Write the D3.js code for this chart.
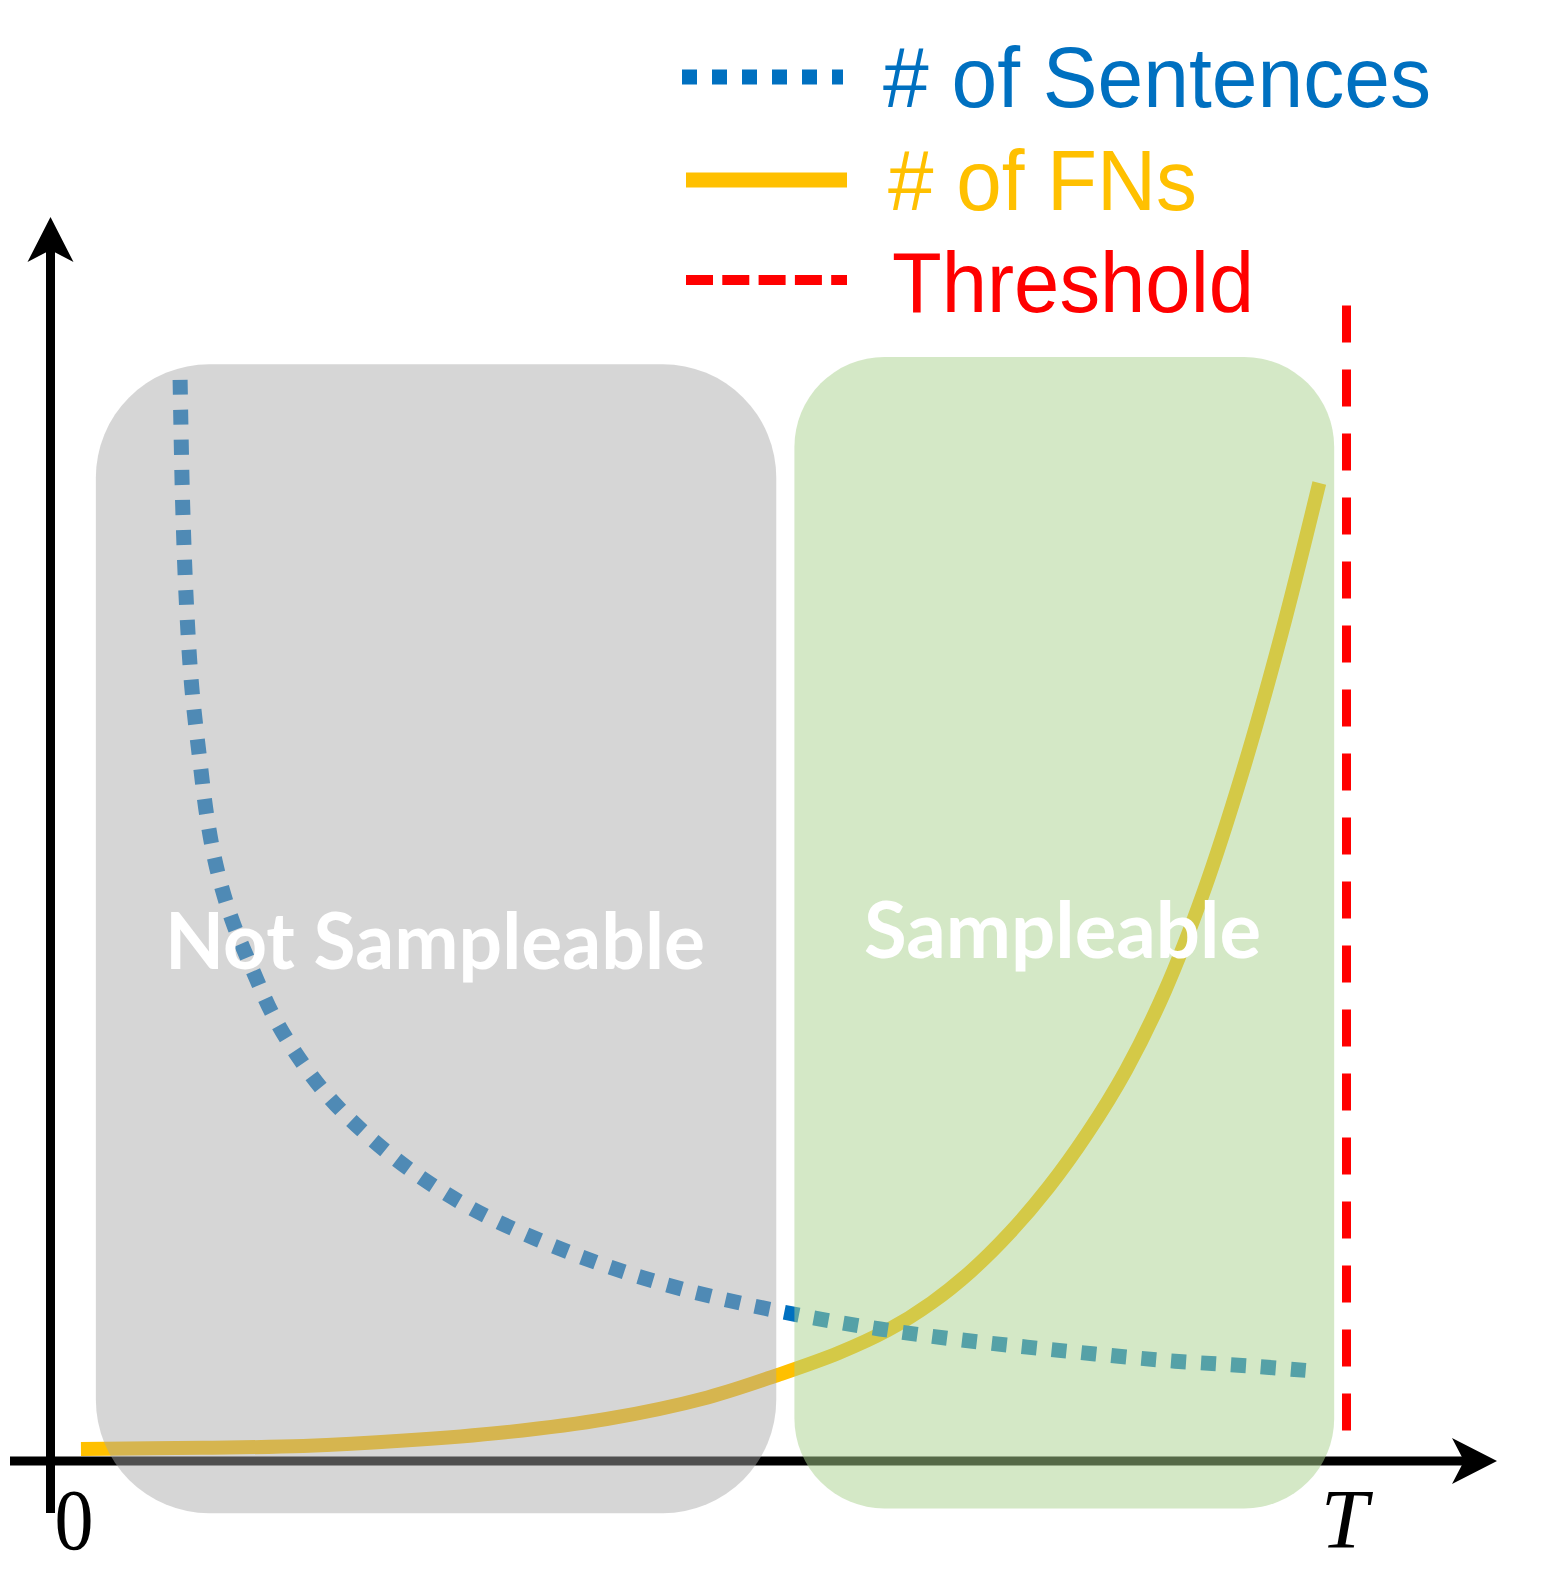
<!DOCTYPE html>
<html>
<head>
<meta charset="utf-8">
<script src="https://cdn.jsdelivr.net/npm/d3@7"></script>
<style>
  html, body { margin: 0; padding: 0; background: #fff; }
  svg { display: block; }
</style>
</head>
<body>
<div id="chart"></div>
<script>
// ---------------- DATA ----------------
// x runs from 0 (origin) to 100 (= T, the threshold); y is an arbitrary count scale 0..100
const seriesNames = ["# of Sentences", "# of FNs", "Threshold"];
const seriesColors = ["#0070C0", "#FFC000", "#FF0000"];

const sentencesX = [10.0, 10.2, 10.5, 10.9, 11.5, 12.1, 12.85, 14.0, 15.6, 17.2, 19.1, 21.5, 24.6, 28.1, 32.4, 37.5, 42.9, 49.2, 56.6, 64.0, 70.2, 78.0, 85.8, 92.8, 98.0];
const sentencesY = [90.1, 79.6, 71.2, 64.5, 58.6, 53.5, 49.3, 45.1, 40.9, 37.1, 33.7, 30.3, 27.0, 24.0, 21.1, 18.5, 16.25, 14.2, 12.4, 11.0, 10.1, 9.2, 8.4, 7.9, 7.45];

const fnsX = [2.35, 11.7, 19.5, 27.3, 35.1, 42.9, 50.7, 56.2, 60.8, 64.6, 68.0, 71.0, 74.0, 77.0, 80.0, 83.0, 86.0, 89.0, 92.0, 95.0, 97.9];
const fnsY = [1.0, 1.1, 1.25, 1.7, 2.4, 3.5, 5.3, 7.2, 9.0, 10.9, 13.2, 15.8, 19.0, 22.8, 27.3, 32.6, 39.2, 47.5, 57.5, 69.0, 81.5];

const thresholdX = 100;
const thresholdTop = 96.3;

const tickValues = [0, 100];
const tickLabels = ["0", "T"];

const regionLabels = ["Not Sampleable", "Sampleable"];
const regionStart = [3.5, 57.4];
const regionEnd = [56.0, 99.05];
const regionTop = [91.4, 92.0];
const regionBottom = [-4.35, -3.95];

// ---------------- LAYOUT ----------------
const W = 1544, H = 1585;
const svg = d3.select("#chart").append("svg").attr("width", W).attr("height", H);

const x = d3.scaleLinear().domain([0, 100]).range([50.5, 1346.5]);
const y = d3.scaleLinear().domain([0, 100]).range([1461, 261]);

const x0 = x(0), y0 = y(0);

// ---------------- AXES ----------------
const axes = svg.append("g");
axes.append("line")
  .attr("x1", 10).attr("x2", 1470)
  .attr("y1", y0).attr("y2", y0)
  .attr("stroke", "#000").attr("stroke-width", 9);
axes.append("line")
  .attr("x1", x0).attr("x2", x0)
  .attr("y1", 1513).attr("y2", 240)
  .attr("stroke", "#000").attr("stroke-width", 9);
const xt = 1497;
axes.append("path")
  .attr("d", `M${xt},${y0} L${xt - 45},${y0 - 23} L${xt - 33},${y0} L${xt - 45},${y0 + 23} Z`)
  .attr("fill", "#000");
const yt = 217;
axes.append("path")
  .attr("d", `M${x0},${yt} L${x0 - 23},${yt + 45} L${x0},${yt + 33} L${x0 + 23},${yt + 45} Z`)
  .attr("fill", "#000");

// ---------------- THRESHOLD ----------------
svg.append("line")
  .attr("x1", x(thresholdX)).attr("x2", x(thresholdX))
  .attr("y1", y(thresholdTop)).attr("y2", y(2.4))
  .attr("stroke", seriesColors[2]).attr("stroke-width", 9)
  .attr("stroke-dasharray", "37,27");

// ---------------- CURVES ----------------
const line = d3.line().x(d => x(d[0])).y(d => y(d[1])).curve(d3.curveCatmullRom.alpha(0.5));

const fnsData = fnsX.map((v, i) => [v, fnsY[i]]);
const sentData = sentencesX.map((v, i) => [v, sentencesY[i]]);

svg.append("path")
  .datum(fnsData)
  .attr("d", line)
  .attr("fill", "none")
  .attr("stroke", seriesColors[1])
  .attr("stroke-width", 14);

svg.append("path")
  .datum(sentData)
  .attr("d", line)
  .attr("fill", "none")
  .attr("stroke", seriesColors[0])
  .attr("stroke-width", 15)
  .attr("stroke-dasharray", "15,15");

// ---------------- REGIONS ----------------
const regionFill = ["#A8A8A8", "#A9D18E"];
const regionOpacity = [0.47, 0.5];
regionLabels.forEach((lab, i) => {
  const rx0 = x(regionStart[i]), rx1 = x(regionEnd[i]);
  const ry0 = y(regionTop[i]), ry1 = y(regionBottom[i]);
  const w = rx1 - rx0, h = ry1 - ry0;
  const r = Math.min(w, h) * 0.1667;
  svg.append("rect")
    .attr("x", rx0).attr("y", ry0).attr("width", w).attr("height", h)
    .attr("rx", r).attr("ry", r)
    .attr("fill", regionFill[i]).attr("fill-opacity", regionOpacity[i]);
});

const labelInfo = [
  { x: 165, y: 969, len: 540 },
  { x: 864, y: 958, len: 397 }
];
regionLabels.forEach((lab, i) => {
  svg.append("text")
    .attr("x", labelInfo[i].x).attr("y", labelInfo[i].y)
    .attr("textLength", labelInfo[i].len)
    .attr("lengthAdjust", "spacingAndGlyphs")
    .attr("font-family", "Lato, 'Open Sans', sans-serif")
    .attr("font-weight", "bold")
    .attr("font-size", 78)
    .attr("fill", "#fff")
    .text(lab);
});

// ---------------- LEGEND ----------------
const legY = [77, 180, 280];
const legTextY = [107, 210, 312];
const legTextX = [883, 888, 892];
const legTextLen = [548, 309, 362];
const legStroke = [15, 15, 10];
const legDash = ["15,15", null, "27,9.3"];
const legX1 = [682, 686, 686], legX2 = [843, 847, 847];
seriesNames.forEach((name, i) => {
  const l = svg.append("line")
    .attr("x1", legX1[i]).attr("x2", legX2[i])
    .attr("y1", legY[i]).attr("y2", legY[i])
    .attr("stroke", seriesColors[i]).attr("stroke-width", legStroke[i]);
  if (legDash[i]) l.attr("stroke-dasharray", legDash[i]);
  svg.append("text")
    .attr("x", legTextX[i]).attr("y", legTextY[i])
    .attr("textLength", legTextLen[i])
    .attr("lengthAdjust", "spacingAndGlyphs")
    .attr("font-family", "'Liberation Sans', Arial, sans-serif")
    .attr("font-size", 86)
    .attr("fill", seriesColors[i])
    .text(name);
});

// ---------------- TICK LABELS ----------------
svg.append("text")
  .attr("x", x(tickValues[0]) + 4).attr("y", 1549)
  .attr("font-family", "'Liberation Serif', 'Times New Roman', serif")
  .attr("font-size", 86)
  .attr("textLength", 39).attr("lengthAdjust", "spacingAndGlyphs")
  .attr("fill", "#000")
  .text(tickLabels[0]);
svg.append("text")
  .attr("x", x(tickValues[1]) - 2).attr("y", 1548)
  .attr("text-anchor", "middle")
  .attr("font-family", "'Liberation Serif', 'Times New Roman', serif")
  .attr("font-style", "italic")
  .attr("font-size", 85)
  .attr("fill", "#000")
  .text(tickLabels[1]);
</script>
</body>
</html>
